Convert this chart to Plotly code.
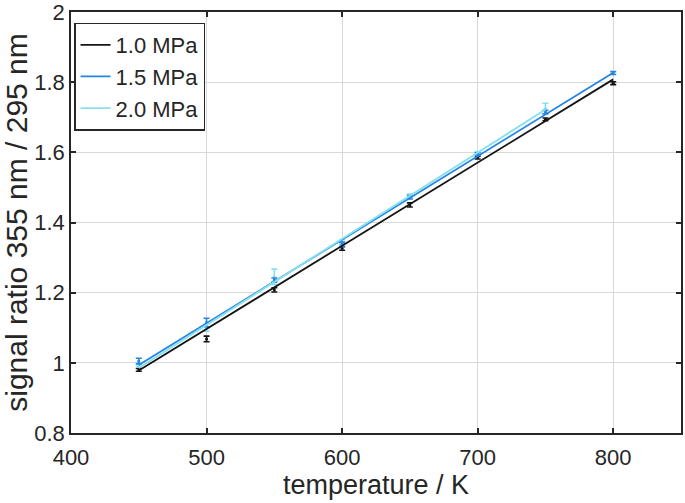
import plotly.graph_objects as go

# measured points
temperature = [450, 500, 550, 600, 650, 700, 750, 800]
ratio_10 = [0.980, 1.068, 1.208, 1.326, 1.450, 1.585, 1.694, 1.797]
err_10 = [0.004, 0.008, 0.006, 0.005, 0.006, 0.004, 0.004, 0.004]
ratio_15 = [1.005, 1.115, 1.236, 1.338, 1.472, 1.595, 1.715, 1.826]
err_15 = [0.008, 0.012, 0.006, 0.006, 0.005, 0.004, 0.005, 0.004]
temperature_20 = [450, 500, 550, 600, 650, 700, 750]
ratio_20 = [0.995, 1.100, 1.245, 1.345, 1.475, 1.598, 1.725]
err_20 = [0.005, 0.010, 0.022, 0.006, 0.006, 0.004, 0.015]

# linear fit lines (end points)
fit_T = [450, 800]
fit_10 = [0.978, 1.808]
fit_15 = [0.994, 1.827]
fit_T_20 = [450, 750]
fit_20 = [0.985, 1.722]

labels = ["1.0 MPa", "1.5 MPa", "2.0 MPa"]
colors = ["#141414", "#2585e3", "#86e0ee"]

fig = go.Figure()

for T, r, e, c in [(temperature, ratio_10, err_10, colors[0]),
                   (temperature_20, ratio_20, err_20, colors[2]),
                   (temperature, ratio_15, err_15, colors[1])]:
    fig.add_trace(go.Scatter(
        x=T, y=r, mode="markers", showlegend=False,
        marker=dict(size=3, color=c),
        error_y=dict(type="data", array=e, visible=True, color=c,
                     thickness=1.6, width=3),
    ))

for T, f, c, name in [(fit_T, fit_10, colors[0], labels[0]),
                      (fit_T, fit_15, colors[1], labels[1]),
                      (fit_T_20, fit_20, colors[2], labels[2])]:
    fig.add_trace(go.Scatter(x=T, y=f, mode="lines", name=name,
                             line=dict(color=c, width=1.8)))

axis_common = dict(
    showline=True, linecolor="#262626", linewidth=1.5, mirror="ticks",
    ticks="inside", ticklen=5, tickcolor="#262626", tickwidth=1.5,
    showgrid=True, gridcolor="#d9d9d9", gridwidth=1, zeroline=False,
    automargin=False, ticklabeloverflow="allow",
    tickfont=dict(family="Liberation Sans", size=22, color="#262626"),
)

fig.update_layout(
    width=685, height=503,
    margin=dict(l=71, r=4, t=12, b=70),
    paper_bgcolor="white", plot_bgcolor="white",
    font=dict(family="Liberation Sans", color="#262626"),
    xaxis=dict(range=[400, 850], tickvals=[400, 500, 600, 700, 800],
               ticklabelstandoff=4,
               title=dict(text="temperature / K",
                          font=dict(size=27, color="#262626"), standoff=6),
               **axis_common),
    yaxis=dict(range=[0.8, 2.0], dtick=0.2, tick0=0.8,
               title=dict(text="signal ratio 355 nm / 295 nm",
                          font=dict(size=30, color="#262626"), standoff=3),
               **axis_common),
    legend=dict(x=0.005, y=0.975, xanchor="left", yanchor="top",
                bgcolor="white", bordercolor="#262626", borderwidth=1.5,
                font=dict(size=22, color="#262626"),
                itemwidth=30, tracegroupgap=0),
)

fig.write_html("out.html",
               config={"displayModeBar": False},
               post_script="document.body.style.margin='0';")
